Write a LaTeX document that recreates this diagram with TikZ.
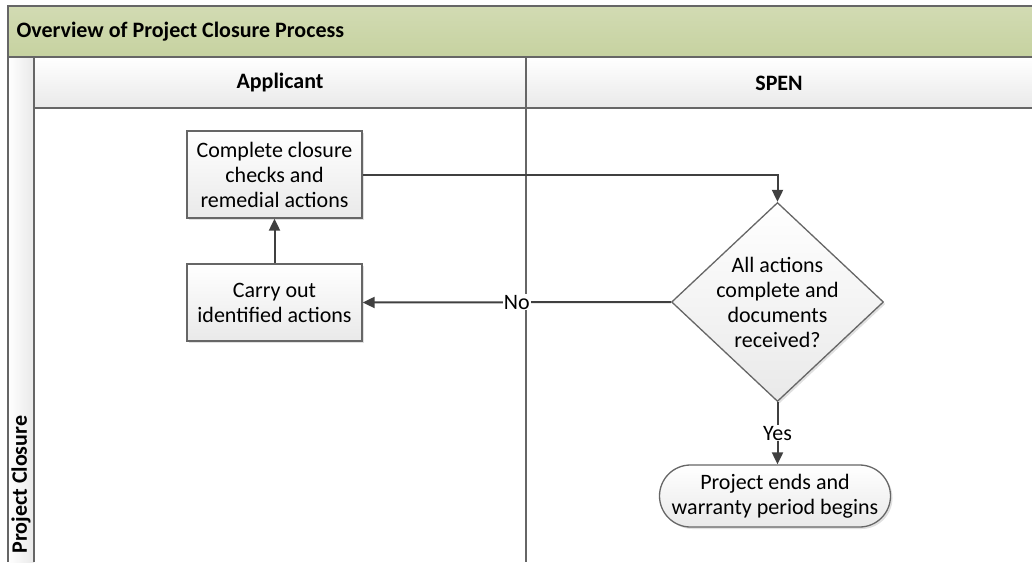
\documentclass[tikz,border=0pt]{standalone}
\usepackage{fontspec}
\setmainfont{Carlito}
\usetikzlibrary{shapes.geometric,arrows.meta,shadows}
\definecolor{frameline}{HTML}{666666}
\definecolor{conn}{HTML}{404040}
\definecolor{titletop}{HTML}{D2DBB3}
\definecolor{titlebot}{HTML}{C6D2A0}
\definecolor{boxbot}{HTML}{E9E9E9}
\tikzset{
  lane/.style={draw=frameline, line width=1.8pt},
  procbox/.style={draw=frameline, line width=1.3pt, top color=white, bottom color=boxbot,
    align=center, inner sep=0pt,
    drop shadow={shadow xshift=2pt, shadow yshift=-2pt, fill=black, opacity=0.12}},
  flow/.style={draw=conn, line width=2pt, -{Triangle[length=12pt,width=11pt]}},
  lbl/.style={fill=white, inner sep=1pt},
  hdr/.style={font=\fontsize{22}{25}\selectfont\bfseries}
}
\begin{document}
\begin{tikzpicture}[x=1pt,y=-1pt, font=\fontsize{22}{25}\selectfont]
\useasboundingbox (0,0) rectangle (1032,562);
% title band
\shade[top color=titletop, bottom color=titlebot] (8,6) rectangle (1032,57);
\node[anchor=west, hdr] (title) at (13,31.5) {Overview of Project Closure Process};
% header row
\shade[top color=white, bottom color=boxbot] (34,57) rectangle (1032,108);
% left pool band
\shade[left color=white, right color=boxbot] (8,57) rectangle (34,562);
\node[hdr] (h1) at (280,83) {Applicant};
\node[hdr] (h2) at (779,83) {SPEN};
\node[rotate=90, anchor=west, hdr] (pool) at (21,557) {Project Closure};
% frame lines
\draw[lane] (1034,6) -- (8,6) -- (8,562);
\draw[lane] (8,57) -- (1034,57);
\draw[lane] (34,57) -- (34,562);
\draw[lane] (34,108) -- (1034,108);
\draw[lane] (526,57) -- (526,562);
% nodes
\node[procbox, minimum width=175pt, minimum height=87pt] (c1) at (274.5,174.5)
  {Complete closure\\checks and\\remedial actions};
\node[procbox, minimum width=175pt, minimum height=77pt] (c2) at (274.5,302.5)
  {Carry out\\identified actions};
\node[procbox, shape=diamond, minimum width=212pt, minimum height=199pt] (d) at (777.5,302)
  {};
\node[align=center] (dtext) at (d.center) {All actions\\complete and\\documents\\received?};
\node[procbox, rounded corners=31pt, minimum width=231pt, minimum height=62pt] (t) at (775,496)
  {Project ends and\\warranty period begins};
% connectors
\draw[flow] (c2.north) -- (c1.south);
\draw[flow] (c1.east) -| (d.north);
\draw[flow] (d.west) -- node[lbl] {No} (c2.east);
\draw[flow] (d.south) -- node[lbl] {Yes} (d.south |- t.north);
\end{tikzpicture}
\end{document}
